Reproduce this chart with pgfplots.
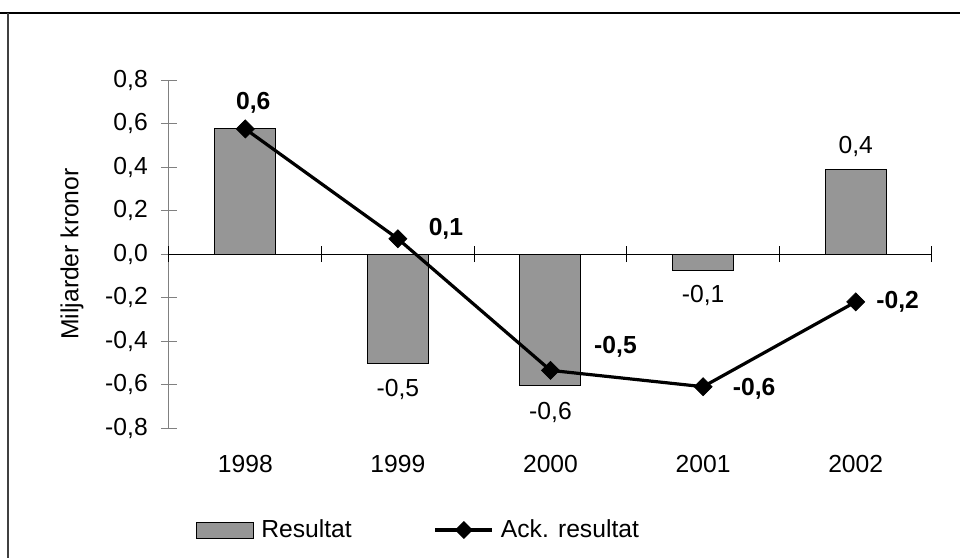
\documentclass[border=0pt]{standalone}
\usepackage{fontspec}
\setmainfont{Liberation Sans}
\usepackage{pgfplots}
\usepackage{pgfplotstable}
\pgfplotsset{compat=1.18}
\definecolor{barfill}{HTML}{969696}
\definecolor{axisgray}{HTML}{808080}
\definecolor{framegray}{HTML}{404040}

% year, result, bar label and label offsets in px
\pgfplotstableread{
x y lbl dx dy
1 0.575 {} 0 0
2 -0.505 {-0,5} 0 -26
3 -0.605 {-0,6} 0 -27
4 -0.075 {-0,1} 0 -25
5 0.39 {0,4} 0 23
}\resultat
% cumulative result
\pgfplotstableread{
x y lbl dx dy
1 0.575 {0,6} 8 26
2 0.07 {0,1} 48 10
3 -0.535 {-0,5} 65 24
4 -0.61 {-0,6} 51 -2
5 -0.22 {-0,2} 42 0
}\ackresultat

\begin{document}
\fontsize{18.5}{22}\selectfont
\begin{tikzpicture}
\path[use as bounding box] (-126.75pt,-97.5pt) rectangle (593.25pt,321pt);
\draw[black, line width=1.1pt] (-126.75pt,311.25pt) -- (593.25pt,311.25pt);
\draw[framegray, line width=1.5pt] (-120.75pt,311.25pt) -- (-120.75pt,-97.5pt);
\begin{axis}[
  scale only axis, width=572.25pt, height=261pt,
  at={(0pt,0pt)}, anchor=south west,
  xmin=0.5, xmax=5.5, ymin=-0.8, ymax=0.8,
  axis x line*=bottom, axis y line*=left,
  x axis line style={draw=none},
  y axis line style={axisgray, line width=0.75pt, -},
  xtick={1,2,3,4,5},
  xticklabels={1998,1999,2000,2001,2002},
  x tick style={draw=none},
  xticklabel style={anchor=north, inner sep=0pt, yshift=-14.5pt},
  ytick={-0.8,-0.6,-0.4,-0.2,0,0.2,0.4,0.6,0.8},
  y tick style={axisgray, line width=0.75pt},
  tick align=center, major tick length=12pt,
  yticklabel style={anchor=east, inner sep=0pt, xshift=-9.75pt,
    /pgf/number format/.cd, fixed, fixed zerofill, precision=1,
    use comma, assume math mode=true},
  ylabel={Miljarder kronor},
  ylabel style={at={(axis description cs:-0.1271,0.5)}, anchor=center},
  clip=false,
  legend columns=4,
  legend style={draw=none, fill=none, inner sep=0pt,
    at={(axis description cs:0.0354,-0.2931)}, anchor=west,
    nodes={inner sep=0pt, anchor=west},
    column sep=5.25pt,
    /tikz/every even column/.append style={column sep=61.5pt}},
]
% zero line with crossing ticks
\draw[black, line width=0.75pt] (axis cs:0.5,0) -- (axis cs:5.5,0);
\draw[black, line width=0.75pt]
  ([yshift=-6pt]axis cs:0.5,0) -- ([yshift=6pt]axis cs:0.5,0)
  ([yshift=-6pt]axis cs:1.5,0) -- ([yshift=6pt]axis cs:1.5,0)
  ([yshift=-6pt]axis cs:2.5,0) -- ([yshift=6pt]axis cs:2.5,0)
  ([yshift=-6pt]axis cs:3.5,0) -- ([yshift=6pt]axis cs:3.5,0)
  ([yshift=-6pt]axis cs:4.5,0) -- ([yshift=6pt]axis cs:4.5,0)
  ([yshift=-6pt]axis cs:5.5,0) -- ([yshift=6pt]axis cs:5.5,0);
\addplot[ybar, bar width=45.75pt, draw=black, line width=0.75pt, fill=barfill,
  point meta=explicit symbolic,
  visualization depends on={\thisrow{dx} \as \dx},
  visualization depends on={\thisrow{dy} \as \dy},
  nodes near coords,
  every node near coord/.append style={anchor=center, inner sep=0pt,
    xshift=\dx*0.75pt, yshift=\dy*0.75pt},
  legend image code/.code={
    \draw[black, line width=0.75pt, fill=barfill] (0pt,-6pt) rectangle (42.75pt,6pt);}
] table[x=x, y=y, meta=lbl] {\resultat};
\addlegendentry{Resultat}
\addplot[black, line width=2.4pt, mark=square*, mark size=4.8pt,
  mark options={rotate=45, fill=black, line width=0.5pt},
  point meta=explicit symbolic,
  visualization depends on={\thisrow{dx} \as \dx},
  visualization depends on={\thisrow{dy} \as \dy},
  nodes near coords,
  every node near coord/.append style={anchor=center, inner sep=0pt,
    font=\bfseries, xshift=\dx*0.75pt, yshift=\dy*0.75pt},
  legend image code/.code={
    \draw[black, line width=2.4pt] (0pt,0pt) -- (42.75pt,0pt);
    \fill[black] (21.4pt,5pt) -- (26.4pt,0pt) -- (21.4pt,-5pt) -- (16.4pt,0pt) -- cycle;}
] table[x=x, y=y, meta=lbl] {\ackresultat};
\addlegendentry{Ack. resultat}
\end{axis}
\end{tikzpicture}
\end{document}
